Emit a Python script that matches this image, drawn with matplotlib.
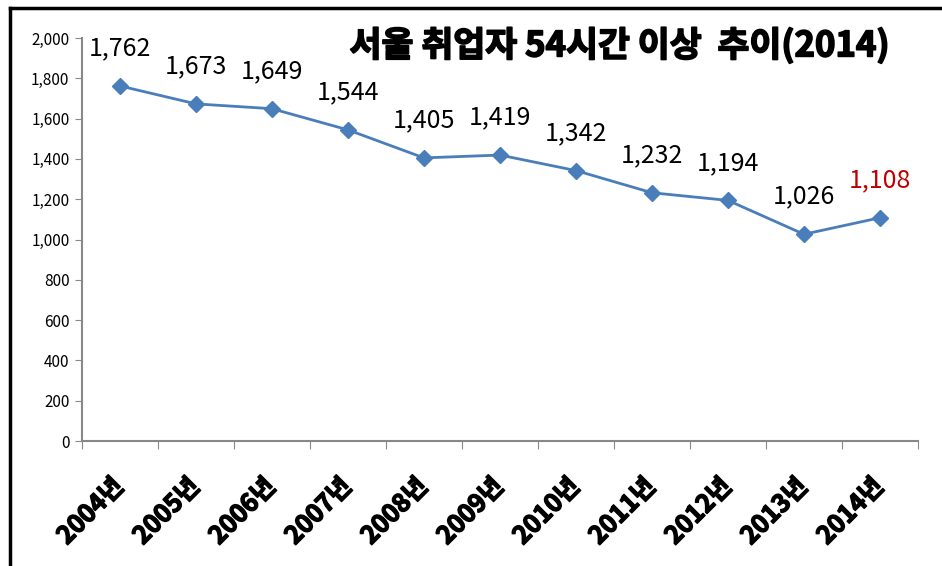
import matplotlib.pyplot as plt
import matplotlib.patheffects as pe
from matplotlib.lines import Line2D

plt.rcParams['font.family'] = ['Noto Sans CJK KR', 'DejaVu Sans']

years = ['2004년', '2005년', '2006년', '2007년', '2008년', '2009년',
         '2010년', '2011년', '2012년', '2013년', '2014년']
workers = [1762, 1673, 1649, 1544, 1405, 1419, 1342, 1232, 1194, 1026, 1108]
title = '서울 취업자 54시간 이상  추이(2014)'

fig = plt.figure(figsize=(9.42, 5.66), dpi=100)
ax = fig.add_axes([0.087, 0.2208, 0.8875, 0.7121])

x = list(range(len(years)))
ax.plot(x, workers, color='#4A7EBB', linewidth=2, marker='D', markersize=8,
        markerfacecolor='#4A7EBB', markeredgecolor='#4A7EBB')

for i, v in enumerate(workers):
    col = '#C00000' if i == len(workers) - 1 else 'black'
    ax.annotate(f'{v:,}', (i, v), xytext=(0, 27), textcoords='offset points',
                ha='center', va='center', fontsize=18, fontweight='light',
                color=col)

ax.set_xlim(-0.5, len(years) - 0.5)
ax.set_ylim(0, 2000)
ax.set_yticks(range(0, 2001, 200))
ax.set_yticklabels([f'{t:,}' for t in range(0, 2001, 200)], fontsize=11)

# category ticks sit between the categories
ax.set_xticks([i - 0.5 for i in range(len(years) + 1)])
ax.set_xticklabels([])
ax.set_xticks(x, minor=True)
ax.set_xticklabels(years, minor=True, rotation=45, ha='right', va='center',
                   rotation_mode='anchor', fontsize=18, fontweight='bold')
for lab in ax.get_xticklabels(minor=True):
    lab.set_path_effects([pe.withStroke(linewidth=1.0, foreground='black')])
ax.tick_params(axis='x', which='minor', length=0, pad=30)
ax.tick_params(axis='x', which='major', length=6, color='#888888', direction='out')
ax.tick_params(axis='y', length=5, color='#888888', direction='out', pad=4)

for s in ['top', 'right']:
    ax.spines[s].set_visible(False)
for s in ['left', 'bottom']:
    ax.spines[s].set_color('#888888')
    ax.spines[s].set_linewidth(1.5)

fig.text(0.658, 0.92, title, ha='center', va='center', fontsize=25,
         fontweight='bold',
         path_effects=[pe.withStroke(linewidth=1.2, foreground='black')])

# outer frame (top and left edges visible)
fig.add_artist(Line2D([0.011, 1.0], [0.986, 0.986], color='black', lw=2.5,
                      transform=fig.transFigure))
fig.add_artist(Line2D([0.011, 0.011], [0.0, 0.986], color='black', lw=2.5,
                      transform=fig.transFigure))

fig.savefig('out.png', dpi=100)
